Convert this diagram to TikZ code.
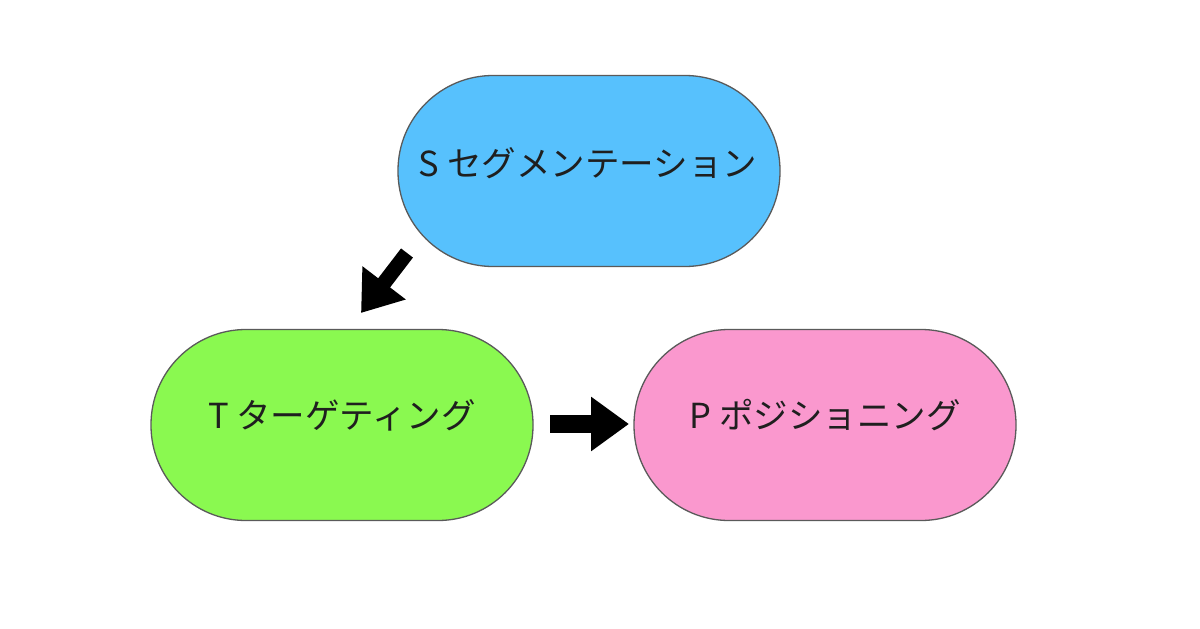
\documentclass[tikz,border=0pt]{standalone}
\usepackage{fontspec}
\newfontfamily\jpfont{Noto Sans CJK JP}
\usetikzlibrary{arrows.meta}
\definecolor{sblue}{RGB}{87,193,253}
\definecolor{tgreen}{RGB}{138,249,80}
\definecolor{ppink}{RGB}{250,152,206}
\definecolor{edgegray}{RGB}{90,90,90}
\begin{document}
\begin{tikzpicture}[x=1pt,y=-1pt,
  stadium/.style={draw=edgegray, line width=1.3pt, rounded corners=95pt, minimum width=382pt, minimum height=191pt, inner sep=0pt},
  lbl/.style={font=\jpfont\fontsize{34.5}{40}\selectfont, text=black!88},
  fatarrow/.style={line width=15pt, -{Triangle[length=38pt,width=52pt]}}]
\useasboundingbox (0,0) rectangle (1200,629);
\node[stadium, fill=sblue] (S) at (589,171) {};
\node[stadium, fill=tgreen] (T) at (342,425) {};
\node[stadium, fill=ppink] (P) at (825,425) {};
\node[lbl] (Sl) at (588,163) {S セグメンテーション};
\node[lbl] (Tl) at (342,415) {T ターゲティング};
\node[lbl] (Pl) at (825,415) {P ポジショニング};
\coordinate (d1) at (407,253);
\coordinate (d2) at (361,313);
\coordinate (h1) at (550,424);
\coordinate (h2) at (629,424);
\draw[fatarrow] (d1) -- (d2);
\draw[fatarrow, line width=18pt] (h1) -- (h2);
\end{tikzpicture}
\end{document}
